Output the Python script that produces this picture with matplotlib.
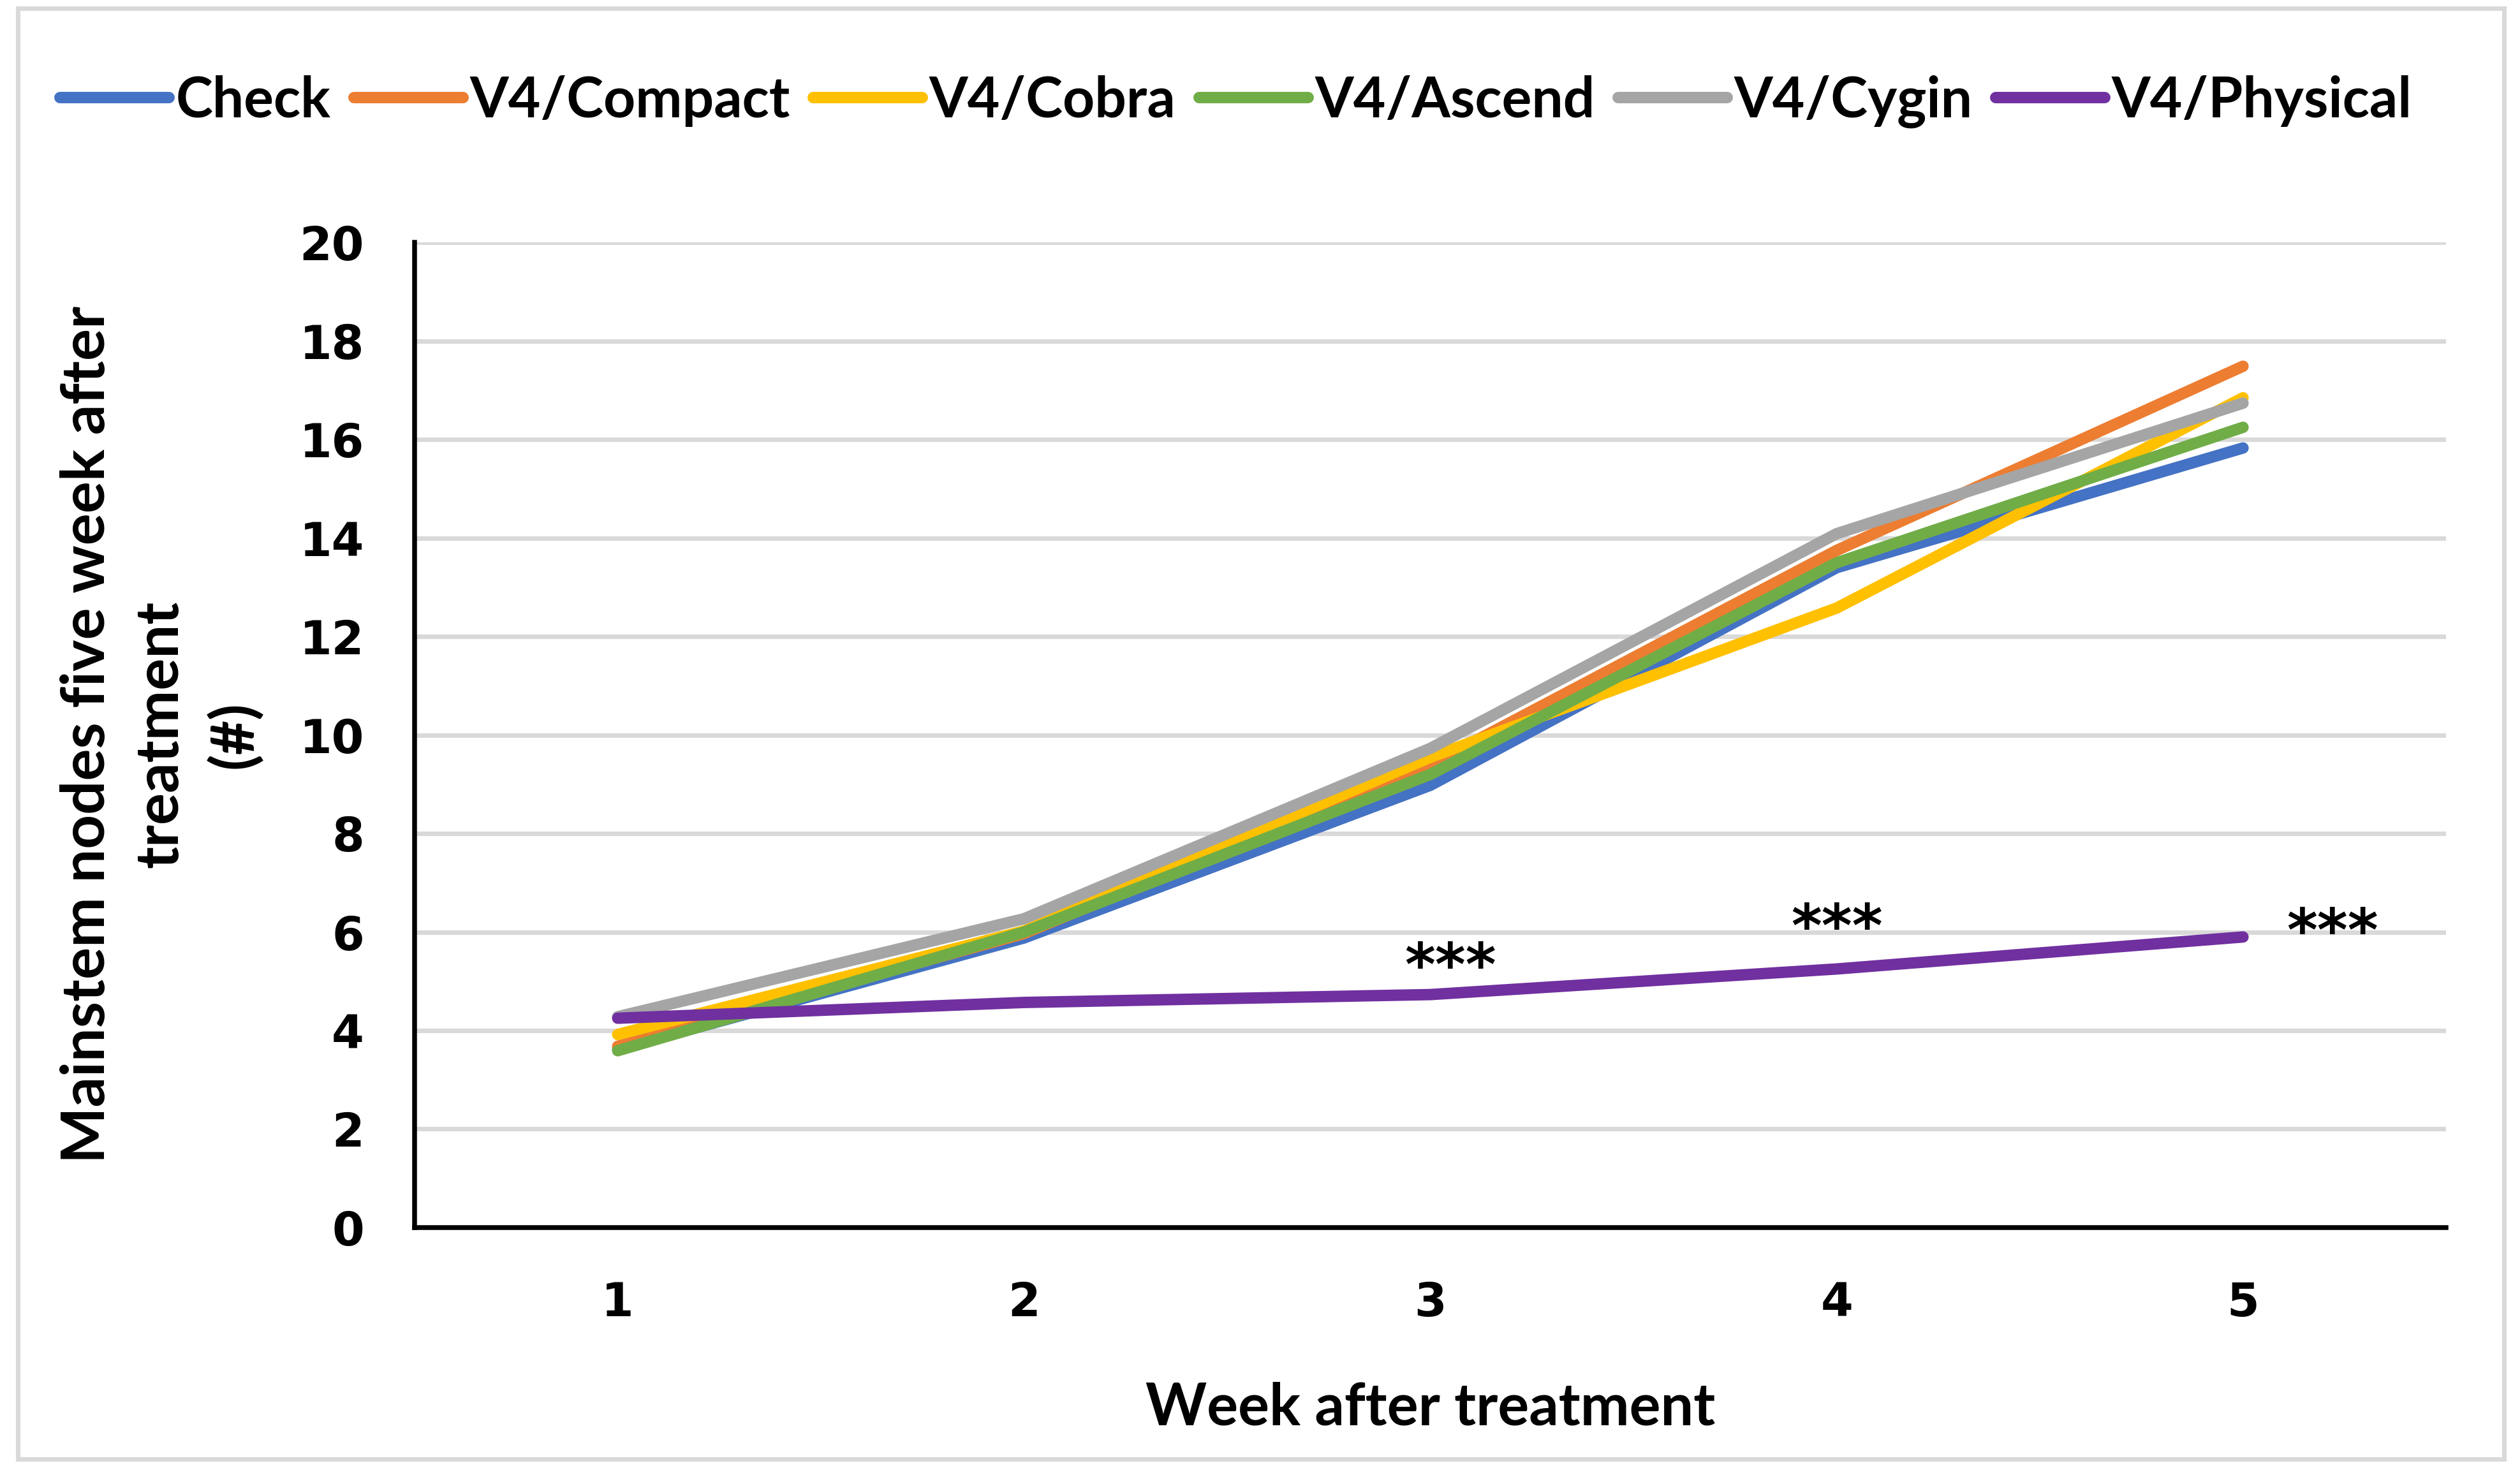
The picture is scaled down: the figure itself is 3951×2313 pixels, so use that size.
import matplotlib
matplotlib.use("Agg")
import matplotlib.pyplot as plt
from matplotlib.patches import Rectangle

weeks = [1, 2, 3, 4, 5]
names = ["Check", "V4/Compact", "V4/Cobra", "V4/Ascend", "V4/Cygin", "V4/Physical"]
check = [3.62, 5.88, 8.98, 13.4, 15.83]
compact = [3.68, 5.97, 9.4, 13.75, 17.49]
cobra = [3.92, 6.02, 9.55, 12.58, 16.85]
ascend = [3.59, 6.0, 9.2, 13.5, 16.25]
cygin = [4.28, 6.27, 9.73, 14.09, 16.74]
physical = [4.25, 4.57, 4.73, 5.25, 5.9]
colors = ["#4472C4", "#ED7D31", "#FFC000", "#70AD47", "#A5A5A5", "#7030A0"]

# significance marks next to the Physical line
star_x = [3.05, 4.0, 5.22]
star_y = [5.25, 6.05, 5.95]

lab_font = "Lato"
fig = plt.figure(figsize=(13.17, 7.71), dpi=300)
ax = fig.add_axes([0.1645, 0.1678, 0.8062, 0.6677])

series = [check, compact, cobra, ascend, cygin, physical]
for vals, name, c in zip(series, names, colors):
    ax.plot(weeks, vals, color=c, lw=4.3, label=name, solid_capstyle="round", solid_joinstyle="round")

for x, y in zip(star_x, star_y):
    ax.text(x, y, "***", ha="center", va="center", fontsize=22, fontweight="bold", family="DejaVu Sans")

ax.set_xlim(0.5, 5.5)
ax.set_ylim(0, 20)
ax.set_yticks(range(0, 21, 2))
ax.set_xticks(weeks)
ax.grid(axis="y", color="#D9D9D9", lw=1.7)
ax.set_axisbelow(True)
for s in ["top", "right"]:
    ax.spines[s].set_visible(False)
ax.spines["left"].set_linewidth(1.8)
ax.spines["bottom"].set_linewidth(1.8)
ax.tick_params(axis="both", length=0, labelsize=17.5)
ax.tick_params(axis="y", pad=19)
ax.tick_params(axis="x", pad=20)
for t in ax.get_xticklabels() + ax.get_yticklabels():
    t.set_fontweight("bold")
    t.set_family("DejaVu Sans")

ax.set_xlabel("Week after treatment", fontsize=22, fontweight="bold", family=lab_font, labelpad=21)
fig.text(0.064, 0.502, "Mainstem nodes five week after\ntreatment\n(#)", rotation=90,
         ha="center", va="center", multialignment="center", fontsize=22.5,
         fontweight="bold", family=lab_font, linespacing=1.4)

leg = fig.legend(loc="center", bbox_to_anchor=(0.4905, 0.931), ncol=6, frameon=False,
                 prop={"family": lab_font, "weight": "bold", "size": 21},
                 handlelength=1.95, handletextpad=0.12, columnspacing=0.42)
for h in leg.get_lines():
    h.set_linewidth(4.3)

fig.patches.append(Rectangle((0.007, 0.011), 0.9867, 0.9835, transform=fig.transFigure,
                             fill=False, edgecolor="#D9D9D9", lw=1.7))

fig.savefig("out.png", dpi=300, facecolor="white")
